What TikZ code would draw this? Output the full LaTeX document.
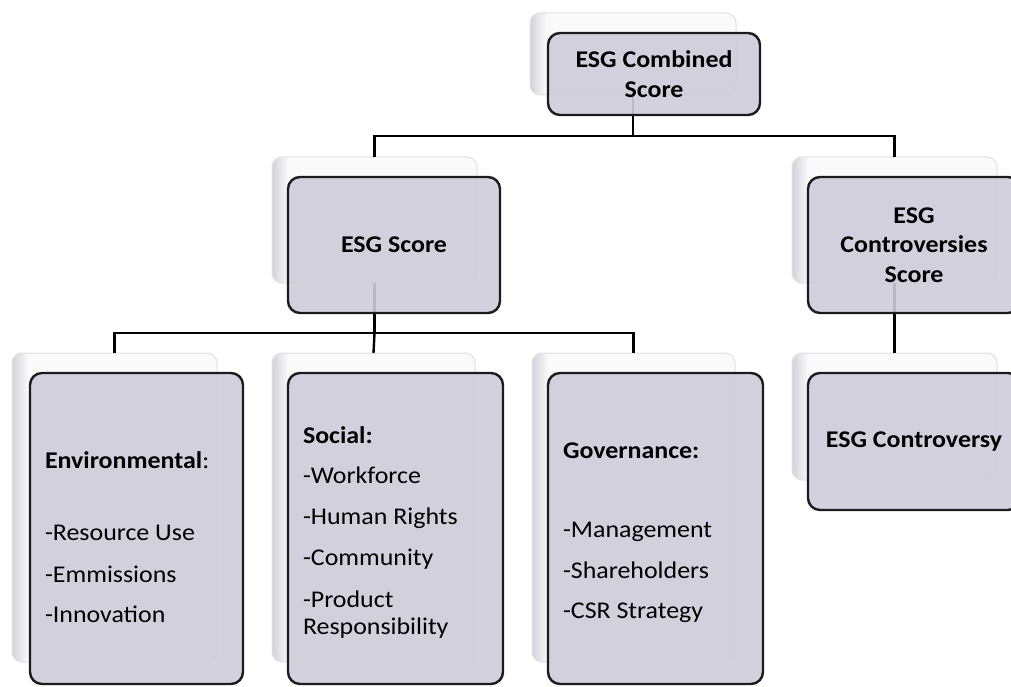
\documentclass[tikz,border=0pt]{standalone}
\usepackage{fontspec}
\setmainfont[FakeStretch=1.08]{Carlito}
\definecolor{frontc}{HTML}{CECCD9}
\definecolor{backc}{HTML}{FAFAFB}
\definecolor{bevelc}{HTML}{D2D2DA}
\definecolor{backline}{HTML}{E0E0E5}
\definecolor{edgec}{HTML}{1C1C1C}
\newcommand\mytitlefont{\fontsize{24}{29.5}\selectfont\bfseries}
\newcommand\mylistfont{\fontsize{24}{28}\selectfont}
\newcommand\mybevel[1]{%
  \begin{scope}
    \clip[rounded corners=10pt] (#1.north west) rectangle (#1.south east);
    \shade[left color=bevelc, right color=backc] (#1.north west) rectangle ([xshift=16pt]#1.south west);
  \end{scope}
  \draw[backline, line width=1pt, rounded corners=10pt] (#1.north west) rectangle (#1.south east);}
\begin{document}
\begin{tikzpicture}[x=1pt,y=-1pt,
  backbox/.style={rectangle, rounded corners=10pt, fill=backc, inner sep=0pt, outer sep=0pt},
  frontbox/.style={rectangle, rounded corners=12pt, fill=frontc, fill opacity=0.9, text opacity=1,
    draw=edgec, line width=2.4pt, inner sep=0pt, outer sep=0pt, align=center, font=\mytitlefont},
  conn/.style={draw=black, line width=2.4pt},
  listline/.style={anchor=base west, inner sep=0pt, outer sep=0pt, font=\mylistfont}]
\useasboundingbox (0,0) rectangle (1011,687);

% back boxes
\node[backbox, minimum width=206pt, minimum height=82pt] (combB) at (633,54) {};
\node[backbox, minimum width=205pt, minimum height=126pt] (scoreB) at (374.5,220) {};
\node[backbox, minimum width=205pt, minimum height=126pt] (contB) at (894.5,220) {};
\node[backbox, minimum width=205pt, minimum height=309pt] (envB) at (114.5,507.5) {};
\node[backbox, minimum width=203pt, minimum height=309pt] (socB) at (373.5,507.5) {};
\node[backbox, minimum width=203pt, minimum height=309pt] (govB) at (633.5,507.5) {};
\node[backbox, minimum width=205pt, minimum height=127pt] (cvB) at (894.5,416.5) {};
\mybevel{combB}\mybevel{scoreB}\mybevel{contB}\mybevel{envB}\mybevel{socB}\mybevel{govB}\mybevel{cvB}

% connectors
\draw[conn] (combB.south) -- ++(0,41) coordinate (jt) -| (scoreB.north);
\draw[conn] (jt) -| (contB.north);
\draw[conn] (scoreB.south) -- ++(0,50) coordinate (jm) -| (envB.north);
\draw[conn] (jm) -- (socB.north);
\draw[conn] (jm) -| (govB.north);
\draw[conn] (contB.south) -- (cvB.north);

% front boxes
\node[frontbox, minimum width=212pt, minimum height=82pt] (combF) at (654,74) {ESG Combined\\Score};
\node[frontbox, minimum width=212pt, minimum height=136pt] (scoreF) at (394,245) {ESG Score};
\node[frontbox, minimum width=212pt, minimum height=136pt] (contF) at (914,245) {ESG\\Controversies\\Score};
\node[frontbox, minimum width=213pt, minimum height=311pt] (envF) at (136.5,528.5) {};
\node[frontbox, minimum width=215pt, minimum height=311pt] (socF) at (395.5,528.5) {};
\node[frontbox, minimum width=215pt, minimum height=311pt] (govF) at (655.5,528.5) {};
\node[frontbox, minimum width=212pt, minimum height=137pt] (cvF) at (914,441.5) {ESG Controversy};

% list texts
\node[listline] (env1) at (45,468) {\textbf{Environmental}:};
\node[listline] (env2) at (45,540) {-Resource Use};
\node[listline] (env3) at (45,582) {-Emmissions};
\node[listline] (env4) at (45,622) {-Innovation};

\node[listline] (soc1) at (303,443) {\textbf{Social:}};
\node[listline] (soc2) at (303,483) {-Workforce};
\node[listline] (soc3) at (303,524) {-Human Rights};
\node[listline] (soc4) at (303,565) {-Community};
\node[listline] (soc5) at (303,607) {-Product};
\node[listline] (soc6) at (303,634) {Responsibility};

\node[listline] (gov1) at (563,458) {\textbf{Governance:}};
\node[listline] (gov2) at (563,537) {-Management};
\node[listline] (gov3) at (563,578) {-Shareholders};
\node[listline] (gov4) at (563,618) {-CSR Strategy};
\end{tikzpicture}
\end{document}
